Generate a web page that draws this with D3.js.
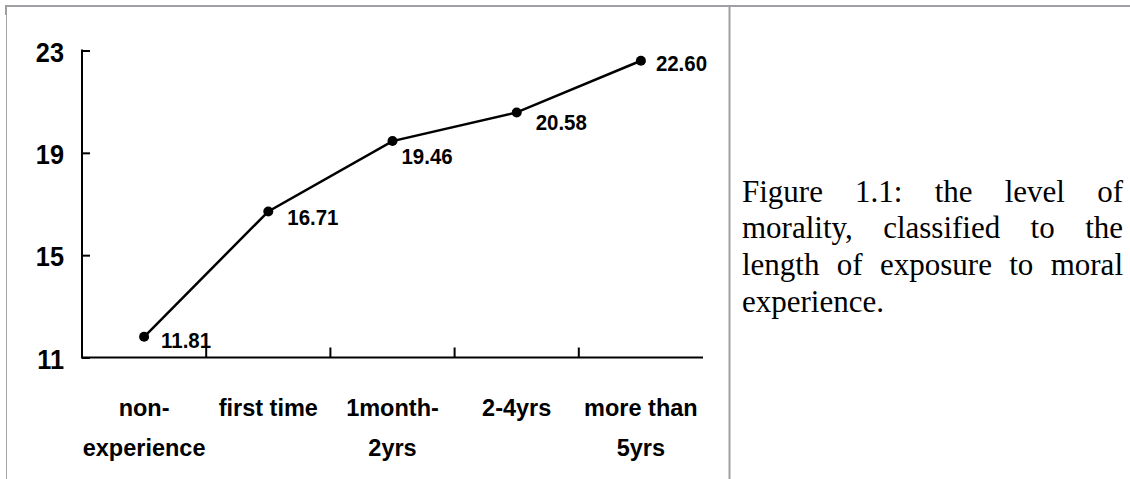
<!DOCTYPE html>
<html><head><meta charset="utf-8">
<script src="https://cdn.jsdelivr.net/npm/d3@7"></script>
<style>
html,body{margin:0;padding:0;background:#fff;}
svg{display:block;}
</style></head>
<body>
<svg id="chart" width="1130" height="479"></svg>
<script>
// ---- data ----
const categories = [["non-","experience"],["first time"],["1month-","2yrs"],["2-4yrs"],["more than","5yrs"]];
const values = [11.81, 16.71, 19.46, 20.58, 22.60];
const valueLabels = ["11.81","16.71","19.46","20.58","22.60"];
const yTicks = [11, 15, 19, 23];
const captionLines = [
  "Figure 1.1: the level of",
  "morality, classified to the",
  "length of exposure to moral",
  "experience."
];
// label offsets (styling) relative to each point
const labelOffsets = [[17,11],[19,14],[9,23],[19,18],[15,10]];

const svg = d3.select("#chart");
const W = 1130, H = 479;
svg.append("rect").attr("width",W).attr("height",H).attr("fill","#fff");

// table borders
svg.append("rect").attr("x",5).attr("y",5).attr("width",W-5).attr("height",2).attr("fill","#a0a0a4");
svg.append("rect").attr("x",5).attr("y",5).attr("width",2).attr("height",10).attr("fill","#a0a0a4");
svg.append("rect").attr("x",6).attr("y",15).attr("width",1).attr("height",H-15).attr("fill","#a8a8ac");
svg.append("rect").attr("x",728.5).attr("y",5).attr("width",2).attr("height",H-5).attr("fill","#a0a0a4");

// scales
const x = d3.scaleBand().domain(d3.range(categories.length)).range([82, 703]).padding(0);
const y = d3.scaleLinear().domain([11, 23]).range([357.5, 50.5]);

const g = svg.append("g");
const font = "'Liberation Sans', Arial, Helvetica, sans-serif";

// y axis
const yAxis = d3.axisLeft(y).tickValues(yTicks).tickSize(-8).tickFormat("");
const ya = g.append("g").attr("transform","translate(82,0)").call(yAxis);
ya.select(".domain").remove();
ya.selectAll(".tick line").attr("stroke","#000").attr("stroke-width",2);
g.append("line").attr("x1",82).attr("x2",82).attr("y1",y(23)-1).attr("y2",y(11)+1)
  .attr("stroke","#000").attr("stroke-width",2);
// y tick labels
yTicks.forEach(t=>{
  g.append("text").attr("transform",`translate(64,${y(t)+11}) scale(0.92,1.02)`)
    .attr("text-anchor","end").attr("font-family",font).attr("font-weight","bold")
    .attr("font-size",27.5).attr("fill","#000").text(t);
});

// x axis
g.append("line").attr("x1",82).attr("x2",703).attr("y1",y(11)).attr("y2",y(11))
  .attr("stroke","#000").attr("stroke-width",2);
d3.range(1, categories.length).forEach(i=>{
  const xx = x(i);
  g.append("line").attr("x1",xx).attr("x2",xx).attr("y1",y(11)).attr("y2",y(11)-10)
    .attr("stroke","#000").attr("stroke-width",2);
});
// category labels
categories.forEach((lines,i)=>{
  const cx = x(i) + x.bandwidth()/2;
  lines.forEach((ln,j)=>{
    g.append("text").attr("x",cx).attr("y",416 + j*40).attr("text-anchor","middle")
      .attr("font-family",font).attr("font-weight","bold").attr("font-size",23.5)
      .attr("fill","#000").text(ln);
  });
});

// line
const line = d3.line().x((d,i)=>x(i)+x.bandwidth()/2).y(d=>y(d));
g.append("path").datum(values).attr("d",line).attr("fill","none")
  .attr("stroke","#000").attr("stroke-width",2.5);
g.selectAll("circle.pt").data(values).enter().append("circle")
  .attr("cx",(d,i)=>x(i)+x.bandwidth()/2).attr("cy",d=>y(d)).attr("r",5).attr("fill","#000");

// value labels
values.forEach((v,i)=>{
  const px = x(i)+x.bandwidth()/2, py = y(v);
  g.append("text").attr("transform",`translate(${px+labelOffsets[i][0]},${py+labelOffsets[i][1]}) scale(0.95,1.05)`)
    .attr("font-family",font).attr("font-weight","bold").attr("font-size",21.5)
    .attr("fill","#000").text(valueLabels[i]);
});

// caption (justified)
const capLeft = 742, capRight = 1123, capTop = 201.5, capLH = 36.8;
const capFont = "'Liberation Serif', 'Times New Roman', serif";
captionLines.forEach((ln,li)=>{
  const yy = capTop + li*capLH;
  const words = ln.split(" ");
  const last = li === captionLines.length-1;
  if (last) {
    svg.append("text").attr("x",capLeft).attr("y",yy).attr("font-family",capFont)
      .attr("font-size",31).attr("fill","#000").text(ln);
    return;
  }
  const nodes = words.map(w=>svg.append("text").attr("y",yy).attr("font-family",capFont)
      .attr("font-size",31).attr("fill","#000").text(w));
  const widths = nodes.map(n=>n.node().getComputedTextLength());
  const total = d3.sum(widths);
  const gap = (capRight - capLeft - total)/(words.length-1);
  let cx = capLeft;
  nodes.forEach((n,k)=>{ n.attr("x",cx); cx += widths[k] + gap; });
});
</script>
</body></html>
